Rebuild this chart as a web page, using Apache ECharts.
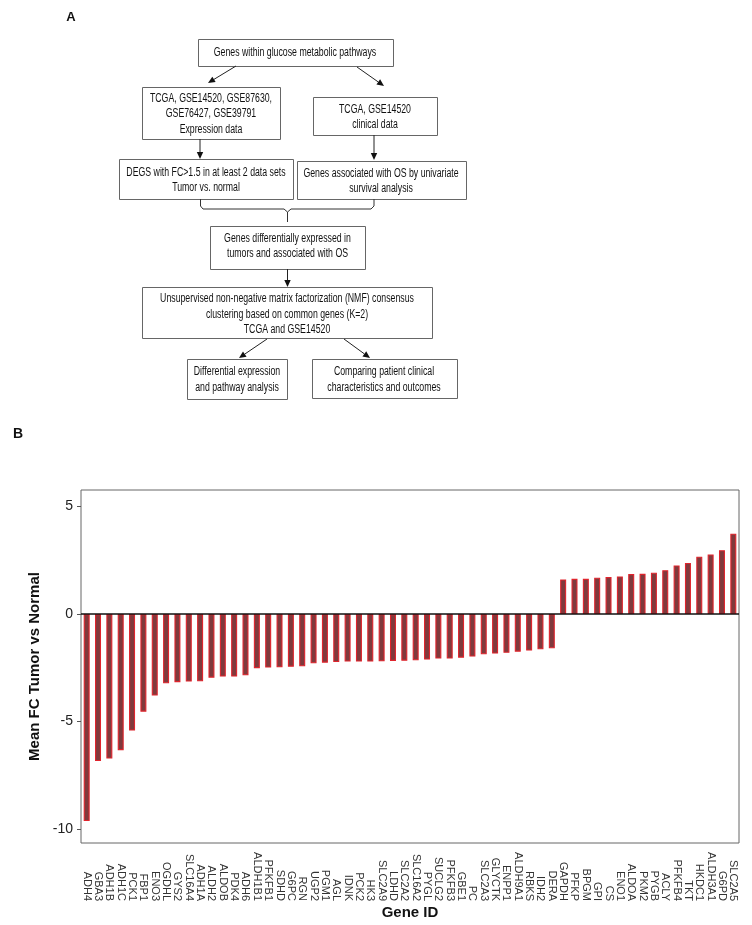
<!DOCTYPE html>
<html>
<head>
<meta charset="utf-8">
<script src="https://cdn.jsdelivr.net/npm/echarts@6/dist/echarts.min.js"></script>
<style>
html,body{margin:0;padding:0;background:#fff;}
#chart{width:752px;height:925px;}
</style>
</head>
<body>
<div id="chart"></div>
<script>
// ---- Data ----
const genes = ['ADH4','GBA3','ADH1B','ADH1C','PCK1','FBP1','ENO3','OGDHL','GYS2','SLC16A4','ADH1A','ALDH2','ALDOB','PDK4','ADH6','ALDH1B1','PFKFB1','SDHD','G6PC','RGN','UGP2','PGM1','AGL','IDNK','PCK2','HK3','SLC2A9','LDHD','SLC2A2','SLC16A2','PYGL','SUCLG2','PFKFB3','GBE1','PC','SLC2A3','GLYCTK','ENPP1','ALDH9A1','RBKS','IDH2','DERA','GAPDH','PFKP','BPGM','GPI','CS','ENO1','ALDOA','PKM2','PYGB','ACLY','PFKFB4','TKT','HKDC1','ALDH3A1','G6PD','SLC2A5'];
const meanFC = [-9.63,-6.84,-6.72,-6.33,-5.42,-4.54,-3.79,-3.22,-3.17,-3.14,-3.13,-2.96,-2.91,-2.91,-2.85,-2.52,-2.49,-2.48,-2.45,-2.43,-2.29,-2.26,-2.23,-2.21,-2.21,-2.21,-2.20,-2.18,-2.17,-2.15,-2.12,-2.07,-2.07,-2.03,-1.98,-1.87,-1.84,-1.80,-1.75,-1.70,-1.64,-1.59,1.61,1.64,1.64,1.69,1.72,1.75,1.86,1.87,1.92,2.04,2.26,2.38,2.67,2.77,2.97,3.74];
const yTicks = [-10, -5, 0, 5];

// ---- Flowchart texts ----
const flowTexts = [
  'Genes within glucose metabolic pathways',
  'TCGA, GSE14520, GSE87630,\nGSE76427, GSE39791\nExpression data',
  'TCGA, GSE14520\nclinical data',
  'DEGS with FC>1.5 in at least 2 data sets\nTumor vs. normal',
  'Genes associated with OS by univariate\nsurvival analysis',
  'Genes differentially expressed in\ntumors and associated with OS',
  'Unsupervised non-negative matrix factorization (NMF) consensus\nclustering based on common genes (K=2)\nTCGA and GSE14520',
  'Differential expression\nand pathway analysis',
  'Comparing patient clinical\ncharacteristics and outcomes'
];
// box layout: [x, y, w, h, textCenterX, textCenterY]
const boxLayout = [
  [198, 39, 195, 27, 295, 52.5],
  [142, 87, 138, 52, 211, 114],
  [313, 97, 124, 38, 375, 117],
  [119, 159, 174, 40, 206, 180],
  [297, 161, 169, 38, 381, 181],
  [210, 226, 155, 43, 287.5, 246],
  [142, 287, 290, 51, 287, 314.5],
  [187, 359, 100, 40, 237, 379.5],
  [312, 359, 145, 39, 384, 379.5]
];
const arrowsDef = [
  [236, 66, 208, 83],
  [357, 67, 384, 86],
  [200, 139, 200, 159],
  [374, 135, 374, 160],
  [287.5, 269, 287.5, 287],
  [267, 339, 239, 358],
  [344, 339, 370, 358]
];

const FONT = 'Liberation Sans, Arial, Helvetica, sans-serif';

function arrow(x1, y1, x2, y2) {
  const L = 7, W = 3.2;
  const dx = x2 - x1, dy = y2 - y1, len = Math.hypot(dx, dy);
  const ux = dx / len, uy = dy / len;
  const bx = x2 - ux * L, by = y2 - uy * L;
  const px = -uy, py = ux;
  return [
    {type: 'line', z: 10, shape: {x1: x1, y1: y1, x2: bx, y2: by}, style: {stroke: '#222', lineWidth: 1}},
    {type: 'polygon', z: 10, shape: {points: [[x2, y2], [bx + px * W, by + py * W], [bx - px * W, by - py * W]]}, style: {fill: '#111'}}
  ];
}

const graphics = [];
boxLayout.forEach((b, i) => {
  graphics.push({type: 'rect', z: 10, shape: {x: b[0] + 0.5, y: b[1] + 0.5, width: b[2], height: b[3]},
    style: {fill: '#fff', stroke: '#666', lineWidth: 1}});
});
boxLayout.forEach((b, i) => {
  graphics.push({type: 'text', z: 11, x: b[4], y: b[5], scaleX: 0.7,
    style: {text: flowTexts[i], fontSize: 12.5, fontFamily: FONT, fill: '#111',
      textAlign: 'center', textVerticalAlign: 'middle', align: 'center', verticalAlign: 'middle', lineHeight: 15.5}});
});
arrowsDef.forEach(a => { arrow(a[0], a[1], a[2], a[3]).forEach(g => graphics.push(g)); });
// bracket joining two boxes
graphics.push({type: 'polyline', z: 10, shape: {points: [[200.5,199],[200.5,206],[203,209],[284,209],[287.5,212],[291,209],[371,209],[374,206],[374,199]]},
  style: {stroke: '#333', lineWidth: 1, fill: null}});
graphics.push({type: 'line', z: 10, shape: {x1: 287.5, y1: 212, x2: 287.5, y2: 222}, style: {stroke: '#333', lineWidth: 1}});
// panel labels
graphics.push({type: 'text', z: 11, x: 71, y: 17, style: {text: 'A', fontSize: 13, fontWeight: 'bold', fontFamily: FONT, fill: '#111', textAlign: 'center', textVerticalAlign: 'middle', align: 'center', verticalAlign: 'middle'}});
graphics.push({type: 'text', z: 11, x: 18, y: 434, style: {text: 'B', fontSize: 14, fontWeight: 'bold', fontFamily: FONT, fill: '#111', textAlign: 'center', textVerticalAlign: 'middle', align: 'center', verticalAlign: 'middle'}});

const chart = echarts.init(document.getElementById('chart'), null, {renderer: 'canvas'});
chart.setOption({
  backgroundColor: '#fff',
  animation: false,
  textStyle: {fontFamily: FONT},
  graphic: graphics,
  grid: {left: 81, right: 13, top: 490, bottom: 82, show: true, borderColor: '#666', borderWidth: 1,
    backgroundColor: 'transparent', containLabel: false, outerBoundsMode: 'none'},
  xAxis: {
    type: 'category',
    data: genes,
    boundaryGap: true,
    axisLine: {show: false, onZero: false},
    axisTick: {show: false},
    splitLine: {show: false},
    axisLabel: {interval: 0, rotate: -90, align: 'right', verticalAlign: 'middle', margin: 58,
      fontSize: 11, color: '#333', fontFamily: FONT, padding: [0, 0, 3, 0]},
    name: 'Gene ID', nameLocation: 'middle', nameGap: 62,
    nameTextStyle: {fontSize: 15, fontWeight: 'bold', color: '#111', fontFamily: FONT}
  },
  yAxis: {
    type: 'value',
    min: -10.65, max: 5.77,
    axisLine: {show: false},
    axisTick: {show: true, length: 4, lineStyle: {color: '#555'}, customValues: yTicks},
    axisLabel: {fontSize: 14, color: '#222', margin: 8, customValues: yTicks, fontFamily: FONT},
    splitLine: {show: false},
    name: 'Mean FC Tumor vs Normal', nameLocation: 'middle', nameGap: 32,
    nameTextStyle: {fontSize: 15, fontWeight: 'bold', color: '#111', fontFamily: FONT}
  },
  series: [{
    type: 'bar',
    data: meanFC,
    barWidth: 6,
    itemStyle: {color: '#7f3a3d', borderColor: '#e0242d', borderWidth: 1.1},
    markLine: {
      silent: true, symbol: 'none', animation: false,
      label: {show: false},
      lineStyle: {color: '#111', width: 1.5, type: 'solid'},
      data: [{yAxis: 0}]
    }
  }]
});
</script>
</body>
</html>
